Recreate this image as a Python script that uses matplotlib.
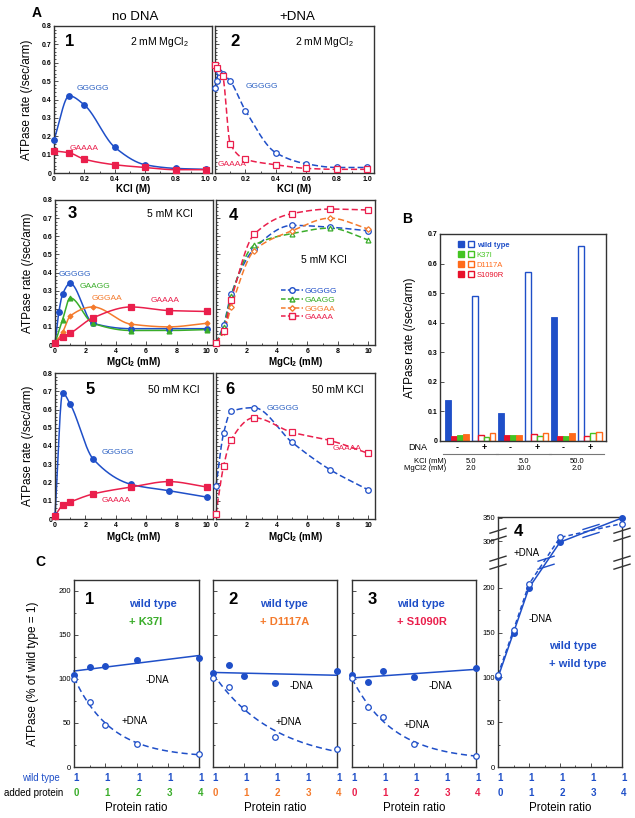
import numpy as np
import matplotlib
matplotlib.use("Agg")
import matplotlib.pyplot as plt
from matplotlib.lines import Line2D
from matplotlib.legend_handler import HandlerTuple
from matplotlib.ticker import MultipleLocator
from matplotlib.transforms import IdentityTransform

plt.rcParams['font.family'] = ['Liberation Sans', 'DejaVu Sans']
plt.rcParams['mathtext.default'] = 'regular'

BLUE = '#1f4fc8'
LBLUE = '#2f63c4'
RED = '#ea1f4c'
GREEN = '#3aad2a'
ORANGE = '#f47a2c'
DARK = '#333333'

# ---- A: ATPase rate, panels 1/2 (KCl titration, 2 mM MgCl2)
kcl_1 = [0, 0.1, 0.2, 0.4, 0.6, 0.8, 1.0]
a1_ggggg = [0.18, 0.42, 0.37, 0.14, 0.045, 0.025, 0.02]
a1_gaaaa = [0.12, 0.11, 0.075, 0.045, 0.03, 0.018, 0.018]
kcl_2g = [0, 0.01, 0.025, 0.05, 0.1, 0.2, 0.4, 0.6, 0.8, 1.0]
a2_ggggg = [0.46, 0.50, 0.55, 0.54, 0.50, 0.34, 0.11, 0.05, 0.03, 0.03]
kcl_2a = [0, 0.01, 0.05, 0.1, 0.2, 0.4, 0.6, 0.8, 1.0]
a2_gaaaa = [0.59, 0.57, 0.53, 0.16, 0.075, 0.045, 0.025, 0.02, 0.02]

# ---- A: panels 3-6 (MgCl2 titration)
mg = [0, 0.5, 1, 2.5, 5, 7.5, 10]
mg_3g = [0, 0.25, 0.5, 1, 2.5, 5, 7.5, 10]
a3_ggggg = [0.01, 0.18, 0.28, 0.34, 0.12, 0.09, 0.09, 0.09]
a3_gaagg = [0.01, 0.14, 0.26, 0.12, 0.08, 0.08, 0.085]
a3_gggaa = [0.01, 0.07, 0.16, 0.21, 0.115, 0.10, 0.12]
a3_gaaaa = [0.01, 0.045, 0.065, 0.15, 0.21, 0.19, 0.185]
a4_ggggg = [0.01, 0.11, 0.28, 0.53, 0.66, 0.65, 0.63]
a4_gaagg = [0.01, 0.10, 0.27, 0.55, 0.615, 0.645, 0.58]
a4_gggaa = [0.01, 0.07, 0.21, 0.52, 0.63, 0.70, 0.64]
a4_gaaaa = [0.01, 0.08, 0.25, 0.61, 0.725, 0.75, 0.745]
a5_ggggg = [0.02, 0.69, 0.63, 0.33, 0.19, 0.155, 0.12]
a5_gaaaa = [0.018, 0.075, 0.093, 0.137, 0.175, 0.205, 0.175]
a6_ggggg = [0.18, 0.47, 0.59, 0.61, 0.42, 0.27, 0.16]
a6_gaaaa = [0.03, 0.29, 0.435, 0.555, 0.475, 0.43, 0.36]

# ---- B: bars
b_proteins = ['wild type', 'K37I', 'D1117A', 'S1090R']
b_colors = [BLUE, '#44c422', '#ff6a1a', '#e8102a']
b_order = [0, 3, 1, 2]          # drawing order inside a group
b_kcl = ['5.0', '5.0', '50.0']
b_mgcl2 = ['2.0', '10.0', '2.0']
b_minus = [[0.137, 0.093, 0.42],   # wild type
           [0.02, 0.02, 0.018],    # K37I
           [0.025, 0.021, 0.027],  # D1117A
           [0.017, 0.02, 0.018]]   # S1090R
b_plus = [[0.49, 0.57, 0.66],
          [0.015, 0.018, 0.026],
          [0.028, 0.027, 0.03],
          [0.02, 0.022, 0.018]]

# ---- C: mixing experiments
ratio = [0, 0.5, 1, 2, 4]
c1_minus = [104, 113, 115, 121, 124]
c1_plus = [100, 74, 48, 26, 15]
c2_minus = [107, 116, 103, 95, 109]
c2_plus = [101, 91, 67, 34, 20]
c3_minus = [104, 96, 109, 102, 112]
c3_plus = [101, 68, 57, 26, 13]
c4_minus = [100, 150, 200, 298, 350]
c4_plus = [103, 153, 208, 308, 338]
c_added = ['K37I', 'D1117A', 'S1090R', 'wild type']
c_added_colors = [GREEN, ORANGE, RED, BLUE]

W, H = 635, 818
fig = plt.figure(figsize=(W / 100, H / 100), dpi=100)


def px_axes(l, t, w, h):
    return fig.add_axes([l / W, 1 - (t + h) / H, w / W, h / H])


def T(x, y, s, **kw):
    kw.setdefault('ha', 'center')
    kw.setdefault('va', 'center')
    fig.text(x / W, 1 - y / H, s, **kw)


def pchip(x, y, n=300):
    x = np.asarray(x, float)
    y = np.asarray(y, float)
    h = np.diff(x)
    d = np.diff(y) / h
    m = np.zeros_like(y)
    for k in range(1, len(x) - 1):
        if d[k - 1] * d[k] > 0:
            w1 = 2 * h[k] + h[k - 1]
            w2 = h[k] + 2 * h[k - 1]
            m[k] = (w1 + w2) / (w1 / d[k - 1] + w2 / d[k])
    m[0] = d[0]
    m[-1] = d[-1]
    xs = np.linspace(x[0], x[-1], n)
    i = np.clip(np.searchsorted(x, xs) - 1, 0, len(h) - 1)
    t = (xs - x[i]) / h[i]
    ys = ((2 * t**3 - 3 * t**2 + 1) * y[i] + (t**3 - 2 * t**2 + t) * h[i] * m[i]
          + (-2 * t**3 + 3 * t**2) * y[i + 1] + (t**3 - t**2) * h[i] * m[i + 1])
    return xs, ys


def expfit(x, y):
    x = np.asarray(x, float)
    y = np.asarray(y, float)
    best = None
    for k in np.linspace(0.1, 4, 400):
        A = np.column_stack([np.ones_like(x), np.exp(-k * x)])
        coef = np.linalg.lstsq(A, y, rcond=None)[0]
        err = np.sum((A @ coef - y) ** 2)
        if best is None or err < best[0]:
            best = (err, k, coef)
    _, k, (a, b) = best
    xs = np.linspace(x.min(), x.max(), 200)
    return xs, a + b * np.exp(-k * xs)


def style_spines(ax):
    for s in ax.spines.values():
        s.set_color(DARK)
        s.set_linewidth(1.0)


def panelA(rect, xmax, xticks, xlabels, xminor, left):
    ax = px_axes(*rect)
    ax.set_xlim(0, xmax)
    ax.set_ylim(0, 0.8)
    ax.set_xticks(xticks)
    ax.set_xticklabels(xlabels, fontsize=5, fontweight='bold')
    ax.xaxis.set_minor_locator(MultipleLocator(xminor))
    ax.set_yticks(np.arange(0, 0.81, 0.1))
    ax.yaxis.set_minor_locator(MultipleLocator(0.02))
    if left:
        ax.set_yticklabels(['0'] + ['%.1f' % v for v in np.arange(0.1, 0.81, 0.1)],
                           fontsize=5, fontweight='bold')
        ax.set_ylabel('ATPase rate (/sec/arm)', fontsize=8.5)
        ax.yaxis.set_label_coords(-0.135, 0.5)
    else:
        ax.set_yticklabels([])
    ax.tick_params(which='both', direction='in', top=False, right=False, pad=2,
                   width=0.6, color=DARK)
    ax.tick_params(which='major', length=3)
    ax.tick_params(which='minor', length=1.5)
    style_spines(ax)
    return ax


def series(ax, x, y, color, marker, filled, dashed, ms=4):
    xs, ys = pchip(x, y)
    ax.plot(xs, ys, color=color, lw=1.1, ls=(0, (4, 2)) if dashed else '-', clip_on=False)
    ax.plot(x, y, ls='none', marker=marker, ms=ms, color=color,
            mfc=color if filled else 'white', mew=0.9, clip_on=False, zorder=3)


kcl_ticks = [0, 0.2, 0.4, 0.6, 0.8, 1.0]
kcl_lab = ['0', '0.2', '0.4', '0.6', '0.8', '1.0']
mg_ticks = [0, 2, 4, 6, 8, 10]
mg_lab = ['0', '2', '4', '6', '8', '10']

ax1 = panelA((54, 26, 158, 147), 1.04, kcl_ticks, kcl_lab, 0.1, True)
series(ax1, kcl_1, a1_ggggg, BLUE, 'o', True, False)
series(ax1, kcl_1, a1_gaaaa, RED, 's', True, False)
ax2 = panelA((215, 26, 159, 147), 1.045, kcl_ticks, kcl_lab, 0.1, False)
series(ax2, kcl_2g, a2_ggggg, BLUE, 'o', False, True)
series(ax2, kcl_2a, a2_gaaaa, RED, 's', False, True)

ax3 = panelA((55, 200, 158, 145), 10.4, mg_ticks, mg_lab, 1, True)
series(ax3, mg_3g, a3_ggggg, BLUE, 'o', True, False)
series(ax3, mg, a3_gaagg, GREEN, '^', True, False, ms=3.5)
series(ax3, mg, a3_gggaa, ORANGE, 'D', True, False, ms=2.5)
series(ax3, mg, a3_gaaaa, RED, 's', True, False)
ax4 = panelA((216, 200, 159, 145), 10.45, mg_ticks, mg_lab, 1, False)
a4_sets = [(a4_ggggg, BLUE, 'o', 4, 'GGGGG'), (a4_gaagg, GREEN, '^', 3.5, 'GAAGG'),
           (a4_gggaa, ORANGE, 'D', 2.8, 'GGGAA'), (a4_gaaaa, RED, 's', 4, 'GAAAA')]
for vals, c, mk, ms, _ in a4_sets:
    series(ax4, mg, vals, c, mk, False, True, ms=ms)
leg = ax4.legend([Line2D([], [], color=c, ls=(0, (3, 1.5)), lw=1.1, marker=mk, ms=ms, mfc='white')
                  for _, c, mk, ms, _ in a4_sets],
                 [s[4] for s in a4_sets], loc='upper left', bbox_to_anchor=(0.41, 0.40),
                 frameon=False, fontsize=6, handlelength=2.6, labelspacing=0.12,
                 handletextpad=0.25, borderpad=0, borderaxespad=0,
                 labelcolor=[s[1] for s in a4_sets])

ax5 = panelA((55, 373, 158, 146), 10.4, mg_ticks, mg_lab, 1, True)
series(ax5, mg, a5_ggggg, BLUE, 'o', True, False)
series(ax5, mg, a5_gaaaa, RED, 's', True, False)
ax6 = panelA((216, 373, 159, 146), 10.45, mg_ticks, mg_lab, 1, False)
series(ax6, mg, a6_ggggg, BLUE, 'o', False, True)
series(ax6, mg, a6_gaaaa, RED, 's', False, True)

for ax, lab, y in [(ax1, 'KCl (M)', 189), (ax2, 'KCl (M)', 189),
                   (ax3, 'MgCl$_2$ (mM)', 362), (ax4, 'MgCl$_2$ (mM)', 362),
                   (ax5, 'MgCl$_2$ (mM)', 537), (ax6, 'MgCl$_2$ (mM)', 537)]:
    bb = ax.get_position()
    T((bb.x0 + bb.x1) / 2 * W, y, lab, fontsize=7, fontweight='bold')

T(37, 13, 'A', fontsize=10, fontweight='bold')
T(135, 17, 'no DNA', fontsize=9.5)
T(297, 17, '+DNA', fontsize=9.5)
for s, x, y in [('1', 70, 42), ('2', 235, 42), ('3', 72, 214), ('4', 233, 216),
                ('5', 90, 390), ('6', 230, 390)]:
    T(x, y, s, fontsize=12, fontweight='bold')
T(159, 42, '2 mM MgCl$_2$', fontsize=7.5)
T(324, 42, '2 mM MgCl$_2$', fontsize=7.5)
T(170, 214, '5 mM KCl', fontsize=7.5)
T(324, 260, '5 mM KCl', fontsize=7.5)
T(174, 390, '50 mM KCl', fontsize=7.5)
T(338, 390, '50 mM KCl', fontsize=7.5)
for s, c, x, y in [('GGGGG', LBLUE, 93, 89), ('GAAAA', RED, 84, 148),
                   ('GGGGG', LBLUE, 262, 87), ('GAAAA', RED, 232, 165),
                   ('GGGGG', LBLUE, 75, 274), ('GAAGG', GREEN, 95, 287),
                   ('GGGAA', ORANGE, 107, 299), ('GAAAA', RED, 165, 300),
                   ('GGGGG', LBLUE, 118, 453), ('GAAAA', RED, 116, 500),
                   ('GGGGG', LBLUE, 283, 408), ('GAAAA', RED, 347, 449)]:
    T(x, y, s, fontsize=6, color=c)

# ---- B
axb = px_axes(440, 234, 166, 207)
step = 4.45
for g in range(3):
    for sgn, vals in enumerate([b_minus, b_plus]):
        base = (2 * g + sgn) * step
        for j, p in enumerate(b_order):
            c = b_colors[p]
            if sgn == 0:
                axb.bar(base + j, vals[p][g], width=1.0, color=c, edgecolor=c, lw=0.6)
            else:
                axb.bar(base + j, vals[p][g], width=0.9, facecolor='white', edgecolor=c, lw=1.0)
        axb.text(base + 1.5, -0.03, '-' if sgn == 0 else '+', transform=axb.get_xaxis_transform(),
                 ha='center', va='center', fontsize=6.5, fontweight='bold')
    x0 = 2 * g * step - 0.9
    x1 = (2 * g + 1) * step + 3.9
    axb.plot([x0, x1], [-0.062, -0.062], transform=axb.get_xaxis_transform(),
             clip_on=False, color='#777777', lw=0.8)
    xc = (2 * g + 0.5) * step + 1.5
    axb.text(xc, -0.099, b_kcl[g], transform=axb.get_xaxis_transform(),
             ha='center', va='center', fontsize=5.5)
    axb.text(xc, -0.133, b_mgcl2[g], transform=axb.get_xaxis_transform(),
             ha='center', va='center', fontsize=5.5)
axb.set_xlim(-1.4, 5 * step + 4.2)
axb.set_ylim(0, 0.7)
axb.set_xticks([])
axb.set_yticks(np.arange(0, 0.71, 0.1))
axb.set_yticklabels(['0'] + ['%.1f' % v for v in np.arange(0.1, 0.71, 0.1)],
                    fontsize=5, fontweight='bold')
axb.tick_params(direction='in', length=3, width=0.6, pad=2, color=DARK)
axb.set_ylabel('ATPase rate (/sec/arm)', fontsize=8.5)
axb.yaxis.set_label_coords(-0.145, 0.5)
style_spines(axb)
bh = [(Line2D([], [], ls='none', marker='s', ms=4.5, color=c, mfc=c),
       Line2D([], [], ls='none', marker='s', ms=4.5, color=c, mfc='white'))
      for c in b_colors]
lb = axb.legend(bh, b_proteins, handler_map={tuple: HandlerTuple(ndivide=None, pad=0.5)},
                loc='upper left', bbox_to_anchor=(0.11, 0.965), frameon=False, fontsize=5.5,
                handlelength=2.0, labelspacing=0.35, handletextpad=0.4, borderpad=0,
                borderaxespad=0, labelcolor=b_colors)
lb.get_texts()[0].set_fontweight('bold')
T(407, 219, 'B', fontsize=10, fontweight='bold')
T(427, 447, 'DNA', fontsize=6.5, ha='right')
T(446, 461.5, 'KCl (mM)', fontsize=5.5, ha='right')
T(446, 468.5, 'MgCl2 (mM)', fontsize=5.5, ha='right')

# ---- C
fwd = lambda y: np.where(y <= 200, y, 200 + (y - 200) * 0.52)
inv = lambda u: np.where(u <= 200, u, 200 + (u - 200) / 0.52)


def panelC(rect, ymax, left, scale=False):
    ax = px_axes(*rect)
    if scale:
        ax.set_yscale('function', functions=(fwd, inv))
    ax.set_xlim(0, 4)
    ax.set_ylim(0, ymax)
    ax.set_xticks(range(5))
    ax.set_xticklabels([])
    ax.xaxis.set_minor_locator(MultipleLocator(0.5))
    if scale:
        ax.set_yticks([0, 50, 100, 150, 200, 300, 350])
        ax.set_yticks([25, 75, 125, 175], minor=True)
    else:
        ax.set_yticks([0, 50, 100, 150, 200])
        ax.yaxis.set_minor_locator(MultipleLocator(25))
    if left:
        ax.set_yticklabels([str(v) for v in ax.get_yticks()], fontsize=5.5)
    else:
        ax.set_yticklabels([])
    ax.yaxis.set_minor_formatter(plt.NullFormatter())
    ax.tick_params(which='both', direction='in', top=False, right=False, pad=2,
                   width=0.6, color=DARK)
    ax.tick_params(which='major', length=3)
    ax.tick_params(which='minor', length=1.5)
    style_spines(ax)
    return ax


c_axes = [panelC((74, 580, 125, 187), 212, True),
          panelC((213, 580, 124, 187), 212, False),
          panelC((352, 580, 124, 187), 212, False),
          panelC((498, 517, 124, 250), 352, True, scale=True)]
c_data = [(c1_minus, c1_plus), (c2_minus, c2_plus), (c3_minus, c3_plus), (c4_minus, c4_plus)]

for i, (ax, (mn, pl)) in enumerate(zip(c_axes, c_data)):
    if i < 3:
        k, b = np.polyfit(ratio, mn, 1)
        xs = np.linspace(0, 4, 50)
        ax.plot(xs, k * xs + b, color=BLUE, lw=1.1, clip_on=False)
        xs, ys = expfit(ratio, pl)
        ax.plot(xs, ys, color=BLUE, lw=1.1, ls=(0, (4, 2.5)), clip_on=False)
    else:
        ax.plot(ratio, mn, color=BLUE, lw=1.1, clip_on=False)
        ax.plot(ratio, pl, color=BLUE, lw=1.1, ls=(0, (3, 2)), clip_on=False)
    ax.plot(ratio, mn, ls='none', marker='o', ms=4, color=BLUE, clip_on=False, zorder=3)
    ax.plot(ratio, pl, ls='none', marker='o', ms=4, color=BLUE, mfc='white', mew=0.9,
            clip_on=False, zorder=3)
    for j in range(5):
        ax.annotate('1', xy=(j, 0), xycoords=('data', 'axes fraction'),
                    xytext=(1.5, -11 * 0.72), textcoords='offset points', ha='center',
                    va='center', fontsize=7, fontweight='bold', color=BLUE)
        ax.annotate(str(j), xy=(j, 0), xycoords=('data', 'axes fraction'),
                    xytext=(1.5, -26 * 0.72), textcoords='offset points', ha='center',
                    va='center', fontsize=7, fontweight='bold', color=c_added_colors[i])
    ax.annotate('Protein ratio', xy=(2, 0), xycoords=('data', 'axes fraction'),
                xytext=(0, -41 * 0.72), textcoords='offset points', ha='center',
                va='center', fontsize=8.3)

c_axes[0].set_ylabel('ATPase (% of wild type = 1)', fontsize=8.5)
c_axes[0].yaxis.set_label_coords(-0.28, 0.5)

T(40, 562, 'C', fontsize=10, fontweight='bold')
T(22, 778, 'wild type', fontsize=7, color=BLUE, ha='left')
T(4, 793, 'added protein', fontsize=7, ha='left')
for (nx, ny), (wx, wy), (ax_, ay), (dx, dy), (px_, py) in [
        ((90, 599), (129, 604), (129, 622), (157, 680), (135, 721)),
        ((233, 599), (260, 604), (260, 622), (301, 686), (289, 722)),
        ((372, 599), (397, 604), (397, 622), (440, 686), (417, 725)),
        ((518, 532), (549, 646), (549, 664), (540, 619), (527, 553))]:
    pass
c_pos = [((90, 599), (129, 604), (129, 622), (157, 680), (135, 721)),
         ((233, 599), (260, 604), (260, 622), (301, 686), (289, 722)),
         ((372, 599), (397, 604), (397, 622), (440, 686), (417, 725)),
         ((518, 532), (549, 646), (549, 664), (540, 619), (527, 553))]
for i, (npos, wpos, apos, dpos, ppos) in enumerate(c_pos):
    T(*npos, str(i + 1), fontsize=12, fontweight='bold')
    T(*wpos, 'wild type', fontsize=8, fontweight='bold', color=BLUE, ha='left')
    T(*apos, '+ ' + c_added[i], fontsize=8, fontweight='bold', color=c_added_colors[i], ha='left')
    T(*dpos, '-DNA', fontsize=7)
    T(*ppos, '+DNA', fontsize=7)

# axis breaks on panel C4
ax4c = c_axes[3]


def brk(ax, x, y, where, color):
    if where == 'left':
        px = ax.transAxes.transform((0, 0))[0]
    elif where == 'right':
        px = ax.transAxes.transform((1, 0))[0]
    else:
        px = ax.transData.transform((x, y))[0]
    py = ax.transData.transform((x, y))[1]
    for off in (-4, 4):
        fig.add_artist(Line2D([px - 8, px + 8], [py + off - 2.5, py + off + 2.5],
                              transform=IdentityTransform(), color=color, lw=1.0))


for yb in (254, 314):
    brk(ax4c, 0, yb, 'left', DARK)
    brk(ax4c, 4, yb, 'right', DARK)
brk(ax4c, 1.55, np.interp(1.55, ratio, c4_minus), 'data', BLUE)
brk(ax4c, 3.0, np.interp(3.0, ratio, c4_minus) - 2, 'data', BLUE)

fig.savefig('out.png', dpi=100)
